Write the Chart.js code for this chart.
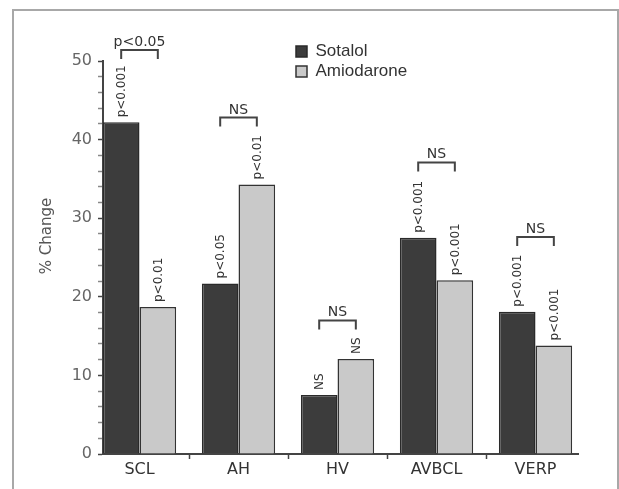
<!DOCTYPE html>
<html>
<head>
<meta charset="utf-8">
<script src="https://cdn.jsdelivr.net/npm/chart.js@4.4.1/dist/chart.umd.min.js"></script>
<style>
html, body { margin: 0; padding: 0; background: #fff; }
#wrap { position: relative; width: 619px; height: 489px; overflow: hidden; }
#frame { position: absolute; left: 12px; top: 9px; width: 603px; height: 490px; border: 2px solid #a8a8a8; border-bottom: none; }
canvas { position: absolute; left: 0; top: 0; }
</style>
</head>
<body>
<div id="wrap"><div id="frame"></div><canvas id="c" width="619" height="489"></canvas></div>
<script>
// ---- data ----
const categories = ['SCL', 'AH', 'HV', 'AVBCL', 'VERP'];
const sotalol = [42.2, 21.7, 7.5, 27.5, 18.1];
const amiodarone = [18.7, 34.3, 12.1, 22.1, 13.8];
const sotalolP = ['p<0.001', 'p<0.05', 'NS', 'p<0.001', 'p<0.001'];
const amiodaroneP = ['p<0.01', 'p<0.01', 'NS', 'p<0.001', 'p<0.001'];
const compareLabels = ['p<0.05', 'NS', 'NS', 'NS', 'NS'];
const compareLevels = [51.4, 42.8, 17.0, 37.1, 27.6];
const yLabels = [0, 10, 20, 30, 40, 50];

const DARK = '#3c3c3c';
const LIGHT = '#c9c9c9';
const INK = '#333333';

const annotations = {
  id: 'annotations',
  afterDatasetsDraw(chart) {
    const ctx = chart.ctx;
    const y = chart.scales.y;
    const m0 = chart.getDatasetMeta(0).data;
    const m1 = chart.getDatasetMeta(1).data;
    ctx.save();
    ctx.fillStyle = INK;
    // rotated p-value labels above every bar
    ctx.font = '12px "DejaVu Sans"';
    const drawRot = (el, txt) => {
      ctx.save();
      ctx.translate(el.x + 1, el.y - 5);
      ctx.rotate(-Math.PI / 2);
      ctx.textAlign = 'left';
      ctx.textBaseline = 'middle';
      ctx.fillText(txt, 0, 0);
      ctx.restore();
    };
    categories.forEach((c, i) => {
      drawRot(m0[i], sotalolP[i]);
      drawRot(m1[i], amiodaroneP[i]);
    });
    // comparison brackets
    ctx.strokeStyle = '#444';
    ctx.lineWidth = 2;
    ctx.font = '14px "DejaVu Sans"';
    ctx.textAlign = 'center';
    ctx.textBaseline = 'alphabetic';
    categories.forEach((c, i) => {
      const x1 = m0[i].x, x2 = m1[i].x;
      const yb = y.getPixelForValue(compareLevels[i]);
      ctx.beginPath();
      ctx.moveTo(x1, yb + 9);
      ctx.lineTo(x1, yb);
      ctx.lineTo(x2, yb);
      ctx.lineTo(x2, yb + 9);
      ctx.stroke();
      ctx.fillText(compareLabels[i], (x1 + x2) / 2, yb - 4);
    });
    ctx.restore();
  }
};

const legendPlacer = {
  id: 'legendPlacer',
  afterLayout(chart) {
    const lg = chart.legend;
    if (!lg) return;
    lg.left = 293;
    lg.top = 40;
    lg.right = lg.left + Math.max(lg.width, 140);
    lg.bottom = lg.top + 60;
  }
};

new Chart(document.getElementById('c'), {
  type: 'bar',
  data: {
    datasets: [
      {
        label: 'Sotalol',
        data: sotalol.map((v, i) => ({ x: i, y: v })),
        backgroundColor: DARK,
        borderColor: '#2a2a2a',
        borderWidth: 1.5
      },
      {
        label: 'Amiodarone',
        data: amiodarone.map((v, i) => ({ x: i, y: v })),
        backgroundColor: LIGHT,
        borderColor: '#333',
        borderWidth: 1.5
      }
    ]
  },
  options: {
    responsive: false,
    animation: false,
    devicePixelRatio: 1,
    categoryPercentage: 0.74,
    barPercentage: 1.0,
    layout: { padding: { top: 61, right: 41, left: 0, bottom: 0 } },
    plugins: {
      legend: {
        position: 'chartArea',
        align: 'start',
        labels: {
          boxWidth: 11,
          boxHeight: 11,
          padding: 3,
          color: INK,
          font: { family: '"Liberation Sans", Arial, sans-serif', size: 17 }
        }
      },
      tooltip: { enabled: false }
    },
    scales: {
      x: {
        type: 'linear',
        offset: false,
        bounds: 'data',
        grace: 0,
        min: -0.3687,
        max: 4.429,
        afterBuildTicks: (axis) => { axis.ticks = categories.map((c, i) => ({ value: i })); },
        afterFit: (axis) => { axis.height = 35; },
        ticks: {
          autoSkip: false,
          maxRotation: 0,
          padding: 1,
          color: INK,
          font: { family: '"DejaVu Sans"', size: 16 },
          callback: (v) => categories[v]
        },
        grid: { offset: true, drawOnChartArea: false, tickLength: 5, color: '#444', tickWidth: 1.5 },
        border: { display: true, color: '#444', width: 2 }
      },
      y: {
        min: 0,
        max: 50,
        afterBuildTicks: (axis) => {
          const t = [];
          for (let v = 0; v <= 50; v += 2) t.push({ value: v });
          axis.ticks = t;
        },
        afterFit: (axis) => { axis.width = 103; },
        ticks: {
          autoSkip: false,
          padding: 6,
          color: '#666',
          font: { family: '"DejaVu Sans"', size: 16 },
          callback: (v) => (yLabels.includes(v) ? String(v) : '')
        },
        grid: {
          drawOnChartArea: false,
          tickLength: 5,
          tickWidth: 1.5,
          tickColor: (c) => (c.tick && yLabels.includes(c.tick.value) ? '#444' : '#888')
        },
        border: { display: true, color: '#444', width: 2 },
        title: {
          display: true,
          text: '         % Change',
          color: '#555',
          font: { family: '"DejaVu Sans"', size: 15 },
          padding: { top: 38, bottom: 0 }
        }
      }
    }
  },
  plugins: [annotations, legendPlacer]
});
</script>
</body>
</html>
